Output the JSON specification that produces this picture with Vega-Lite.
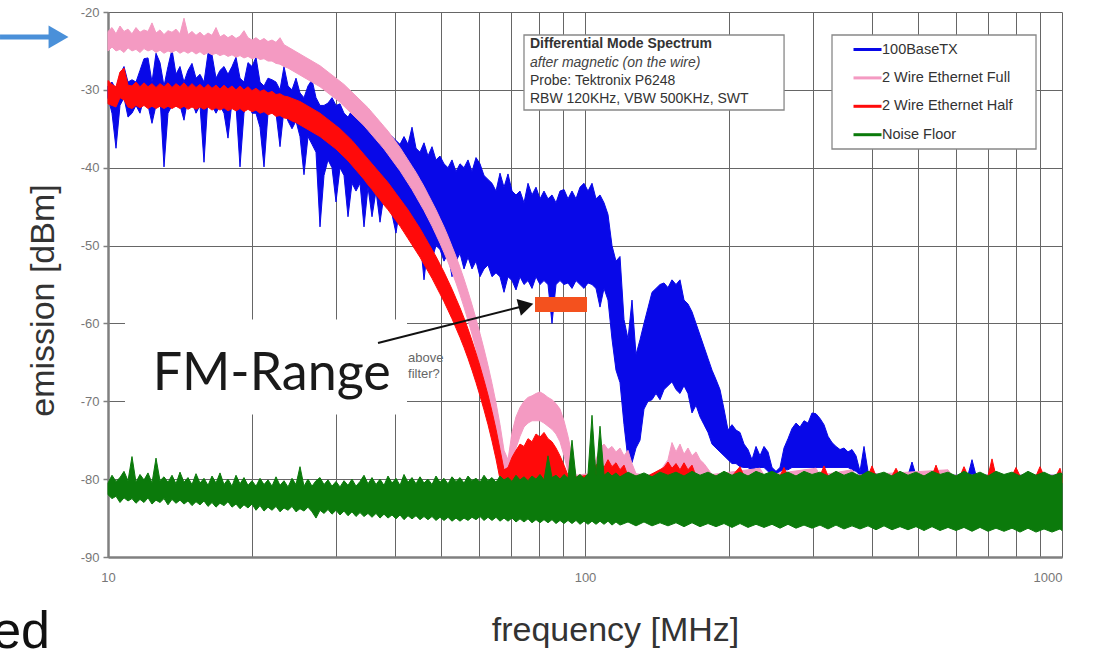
{
"$schema": "https://vega.github.io/schema/vega-lite/v6.json",
"width": 954, "height": 545,
"autosize": "none",
"padding": {"left": 108, "top": 12, "right": 37, "bottom": 94},
"background": "white",
"config": {"view": {"stroke": null},
 "legend": {"orient": "none", "legendX": 744, "legendY": 30, "symbolType": "M-1,0H3.67", "symbolSize": 144, "symbolStrokeWidth": 3, "labelFont": "Liberation Sans", "labelFontSize": 14.5, "labelColor": "#333", "labelOffset": 15, "rowPadding": 13.4, "padding": 0}},
"datasets": {
"blue": [
{"f":10,"lo":-31,"hi":-29.5},{"f":10.195,"lo":-33,"hi":-29},{"f":10.394,"lo":-37.5,"hi":-30},{"f":10.596,"lo":-32,"hi":-28},{"f":10.803,"lo":-31,"hi":-27},{"f":11.014,"lo":-33.5,"hi":-29},{"f":11.228,"lo":-33,"hi":-28.7},{"f":11.447,"lo":-32,"hi":-29},{"f":11.67,"lo":-33,"hi":-27.5},{"f":11.898,"lo":-31,"hi":-26},{"f":12.13,"lo":-32,"hi":-25.9},{"f":12.366,"lo":-34.3,"hi":-29},
{"f":12.608,"lo":-32,"hi":-25.3},{"f":12.853,"lo":-31,"hi":-26.5},{"f":13.104,"lo":-39.9,"hi":-29.5},{"f":13.359,"lo":-33,"hi":-27},{"f":13.62,"lo":-32,"hi":-24.8},{"f":13.885,"lo":-31.5,"hi":-28},{"f":14.156,"lo":-32,"hi":-27},{"f":14.432,"lo":-33.9,"hi":-29},{"f":14.713,"lo":-31,"hi":-27.5},{"f":15.0,"lo":-31.5,"hi":-26.6},{"f":15.293,"lo":-33,"hi":-28.5},{"f":15.591,"lo":-32,"hi":-28},
{"f":15.895,"lo":-39.3,"hi":-29},{"f":16.205,"lo":-31,"hi":-25.3},{"f":16.521,"lo":-32,"hi":-25.5},{"f":16.843,"lo":-33,"hi":-28.5},{"f":17.171,"lo":-32,"hi":-27.5},{"f":17.506,"lo":-33,"hi":-27},{"f":17.847,"lo":-36.2,"hi":-28},{"f":18.195,"lo":-31.5,"hi":-27},{"f":18.55,"lo":-32,"hi":-25.8},{"f":18.912,"lo":-39.9,"hi":-28.5},{"f":19.28,"lo":-33,"hi":-29},{"f":19.656,"lo":-31,"hi":-26.5},
{"f":20.04,"lo":-33,"hi":-27},{"f":20.43,"lo":-33,"hi":-25.8},{"f":20.829,"lo":-34.8,"hi":-29},{"f":21.235,"lo":-39.9,"hi":-29.5},{"f":21.649,"lo":-33,"hi":-28.5},{"f":22.071,"lo":-32,"hi":-28.7},{"f":22.501,"lo":-33,"hi":-29},{"f":22.94,"lo":-37.3,"hi":-30},{"f":23.387,"lo":-32.5,"hi":-27},{"f":23.843,"lo":-34,"hi":-29.5},{"f":24.308,"lo":-35,"hi":-30},{"f":24.782,"lo":-34,"hi":-28.5},
{"f":25.265,"lo":-36,"hi":-30.4},{"f":25.757,"lo":-40.9,"hi":-31},{"f":26.26,"lo":-36,"hi":-29.5},{"f":26.772,"lo":-37,"hi":-28.7},{"f":27.294,"lo":-38,"hi":-31},{"f":27.826,"lo":-47.6,"hi":-32},{"f":28.368,"lo":-41,"hi":-32},{"f":28.921,"lo":-39,"hi":-31.7},{"f":29.485,"lo":-40,"hi":-31},{"f":30.06,"lo":-44.4,"hi":-32},{"f":30.646,"lo":-40,"hi":-31.8},{"f":31.244,"lo":-41,"hi":-33},
{"f":31.853,"lo":-46.3,"hi":-33.5},{"f":32.474,"lo":-42,"hi":-32.6},{"f":33.107,"lo":-43,"hi":-33},{"f":33.753,"lo":-42,"hi":-34},{"f":34.411,"lo":-47.6,"hi":-34.5},{"f":35.081,"lo":-42.5,"hi":-33.8},{"f":35.766,"lo":-46.3,"hi":-34},{"f":36.463,"lo":-43,"hi":-35.5},{"f":37.174,"lo":-47,"hi":-35},{"f":37.899,"lo":-43.5,"hi":-36},{"f":38.637,"lo":-44,"hi":-35.5},{"f":39.391,"lo":-46,"hi":-36},
{"f":40.158,"lo":-48.4,"hi":-36.5},{"f":40.941,"lo":-45,"hi":-37},{"f":41.74,"lo":-46,"hi":-36},{"f":42.553,"lo":-47,"hi":-37},{"f":43.383,"lo":-47,"hi":-34.8},{"f":44.229,"lo":-48,"hi":-37.5},{"f":45.091,"lo":-49,"hi":-38},{"f":45.97,"lo":-54.4,"hi":-36.8},{"f":46.866,"lo":-50,"hi":-38.5},{"f":47.78,"lo":-51.8,"hi":-37.3},{"f":48.711,"lo":-50,"hi":-39},{"f":49.661,"lo":-50.5,"hi":-38.5},
{"f":50.63,"lo":-52,"hi":-39.5},{"f":51.617,"lo":-51,"hi":-40},{"f":52.623,"lo":-54,"hi":-39},{"f":53.649,"lo":-52,"hi":-40.5},{"f":54.695,"lo":-51,"hi":-39.5},{"f":55.761,"lo":-53,"hi":-40},{"f":56.849,"lo":-51.5,"hi":-39},{"f":57.957,"lo":-53,"hi":-40.5},{"f":59.087,"lo":-52,"hi":-38.7},{"f":60.239,"lo":-54,"hi":-39.5},{"f":61.413,"lo":-53,"hi":-41},{"f":62.611,"lo":-52.5,"hi":-41.5},
{"f":63.832,"lo":-54,"hi":-42},{"f":65.076,"lo":-53.5,"hi":-43},{"f":66.345,"lo":-54,"hi":-40.7},{"f":67.638,"lo":-56,"hi":-42.5},{"f":68.957,"lo":-54,"hi":-40.8},{"f":70.301,"lo":-54.5,"hi":-43},{"f":71.672,"lo":-55.7,"hi":-43.5},{"f":73.069,"lo":-54,"hi":-43},{"f":74.494,"lo":-55,"hi":-44.5},{"f":75.946,"lo":-54.5,"hi":-42},{"f":77.427,"lo":-55.5,"hi":-43.5},{"f":78.936,"lo":-54,"hi":-42.5},
{"f":80.476,"lo":-55,"hi":-44},{"f":82.045,"lo":-54.5,"hi":-43},{"f":83.645,"lo":-55,"hi":-44},{"f":85.275,"lo":-60,"hi":-43.5},{"f":86.938,"lo":-55,"hi":-44.5},{"f":88.633,"lo":-54.5,"hi":-43},{"f":90.361,"lo":-55,"hi":-42.8},{"f":92.123,"lo":-54.8,"hi":-44},{"f":93.919,"lo":-55.5,"hi":-43},{"f":95.75,"lo":-54.5,"hi":-44},{"f":97.616,"lo":-55,"hi":-42.5},{"f":99.52,"lo":-55.5,"hi":-42},
{"f":101.46,"lo":-54.8,"hi":-43},{"f":103.44,"lo":-55,"hi":-42},{"f":105.46,"lo":-55.5,"hi":-44},{"f":107.51,"lo":-57.9,"hi":-43.5},{"f":109.61,"lo":-55.5,"hi":-44.5},{"f":111.74,"lo":-57,"hi":-46},{"f":113.92,"lo":-62,"hi":-50},{"f":116.14,"lo":-66,"hi":-52},{"f":118.41,"lo":-67.6,"hi":-51.4},{"f":120.72,"lo":-73,"hi":-59.5},{"f":123.07,"lo":-77.5,"hi":-62},{"f":125.47,"lo":-77.9,"hi":-57},
{"f":127.92,"lo":-76,"hi":-64},{"f":130.41,"lo":-75,"hi":-62.1},{"f":132.95,"lo":-71,"hi":-60},{"f":135.55,"lo":-70,"hi":-58},{"f":138.19,"lo":-69.8,"hi":-56},{"f":140.88,"lo":-69,"hi":-55.5},{"f":143.63,"lo":-69.8,"hi":-55},{"f":146.43,"lo":-68.5,"hi":-54.8},{"f":149.28,"lo":-68,"hi":-55.4},{"f":152.19,"lo":-67.5,"hi":-54.4},{"f":155.16,"lo":-68.5,"hi":-55},{"f":158.19,"lo":-69,"hi":-54.4},
{"f":161.27,"lo":-68,"hi":-57},{"f":164.41,"lo":-69,"hi":-57.5},{"f":167.62,"lo":-71.5,"hi":-58.5},{"f":170.89,"lo":-70.5,"hi":-60},{"f":174.22,"lo":-72,"hi":-61.5},{"f":177.62,"lo":-73,"hi":-63},{"f":181.08,"lo":-74,"hi":-64.5},{"f":184.61,"lo":-75.5,"hi":-66},{"f":188.21,"lo":-76,"hi":-67.2},{"f":191.88,"lo":-76.5,"hi":-68.5},{"f":195.62,"lo":-77,"hi":-71},{"f":199.44,"lo":-77.5,"hi":-73.7},
{"f":203.32,"lo":-78,"hi":-73},{"f":207.29,"lo":-78,"hi":-73.7},{"f":211.33,"lo":-78.4,"hi":-74},{"f":215.45,"lo":-78.5,"hi":-75.5},{"f":219.65,"lo":-78.5,"hi":-76.2},{"f":223.93,"lo":-79,"hi":-77.5},{"f":228.3,"lo":-78.5,"hi":-75.8},{"f":232.75,"lo":-78.5,"hi":-77},{"f":237.29,"lo":-78.5,"hi":-75.8},{"f":241.91,"lo":-79,"hi":-76.5},{"f":246.63,"lo":-79.5,"hi":-78.5},{"f":251.44,"lo":-79.5,"hi":-79},
{"f":256.34,"lo":-79,"hi":-78.5},{"f":261.34,"lo":-78.8,"hi":-76},{"f":266.43,"lo":-78.8,"hi":-74.8},{"f":271.63,"lo":-78.5,"hi":-73.5},{"f":276.92,"lo":-78.5,"hi":-72.8},{"f":282.32,"lo":-78.5,"hi":-73.3},{"f":287.83,"lo":-78.5,"hi":-72.5},{"f":293.44,"lo":-78.5,"hi":-72.8},{"f":299.16,"lo":-78.5,"hi":-71.5},{"f":304.99,"lo":-78.5,"hi":-71.6},{"f":310.94,"lo":-78.5,"hi":-72.2},{"f":317.0,"lo":-78.5,"hi":-73},
{"f":323.18,"lo":-78.5,"hi":-74.5},{"f":329.48,"lo":-78.5,"hi":-75.3},{"f":335.9,"lo":-78.5,"hi":-75.8},{"f":342.45,"lo":-78.5,"hi":-76.2},{"f":349.13,"lo":-78.5,"hi":-76},{"f":355.94,"lo":-78.5,"hi":-76.5},{"f":362.88,"lo":-78.8,"hi":-76.2},{"f":369.95,"lo":-79,"hi":-77},{"f":377.17,"lo":-79.5,"hi":-79},{"f":384.52,"lo":-79.5,"hi":-75.8},{"f":392.02,"lo":-79.5,"hi":-79},
{"f":415.39,"lo":-80,"hi":-79.5},{"f":475.51,"lo":-80,"hi":-79.5},{"f":484.78,"lo":-80,"hi":-77.8},{"f":494.23,"lo":-80,"hi":-79.5},{"f":635.26,"lo":-80,"hi":-79.5},{"f":647.64,"lo":-80,"hi":-77.5},{"f":660.26,"lo":-80,"hi":-79.5},{"f":1000,"lo":-80,"hi":-79.5}
],
"pink": [
{"f":10,"lo":-25,"hi":-22.5},{"f":10.195,"lo":-24.5,"hi":-22},{"f":10.394,"lo":-25,"hi":-22.8},{"f":10.596,"lo":-24.8,"hi":-21.8},{"f":10.803,"lo":-25.2,"hi":-22.5},{"f":11.014,"lo":-24.6,"hi":-22.2},{"f":11.228,"lo":-25,"hi":-22.8},{"f":11.447,"lo":-24.8,"hi":-22},{"f":11.67,"lo":-25.2,"hi":-22.6},{"f":11.898,"lo":-24.7,"hi":-22.3},{"f":12.13,"lo":-25,"hi":-22.5},{"f":12.366,"lo":-24.8,"hi":-21.4},
{"f":12.608,"lo":-25.2,"hi":-22.7},{"f":12.853,"lo":-24.9,"hi":-22.3},{"f":13.104,"lo":-25.3,"hi":-22.9},{"f":13.359,"lo":-25,"hi":-22.4},{"f":13.62,"lo":-25.2,"hi":-22.6},{"f":13.885,"lo":-24.9,"hi":-22.2},{"f":14.156,"lo":-25.3,"hi":-22.8},{"f":14.432,"lo":-25,"hi":-20.8},{"f":14.713,"lo":-25.3,"hi":-22.9},{"f":15.0,"lo":-25,"hi":-22.5},{"f":15.293,"lo":-25.4,"hi":-23},{"f":15.591,"lo":-25.1,"hi":-22.6},
{"f":15.895,"lo":-25.5,"hi":-23.1},{"f":16.205,"lo":-25.2,"hi":-22.7},{"f":16.521,"lo":-25.5,"hi":-23},{"f":16.843,"lo":-25.3,"hi":-22},{"f":17.171,"lo":-25.6,"hi":-23.2},{"f":17.506,"lo":-25.4,"hi":-22.9},{"f":17.847,"lo":-25.7,"hi":-23.3},{"f":18.195,"lo":-25.5,"hi":-23},{"f":18.55,"lo":-25.8,"hi":-23.4},{"f":18.912,"lo":-25.6,"hi":-23.1},{"f":19.28,"lo":-25.9,"hi":-22.4},{"f":19.656,"lo":-25.7,"hi":-23.3},
{"f":20.04,"lo":-26,"hi":-23.6},{"f":20.43,"lo":-25.8,"hi":-23.3},{"f":20.829,"lo":-26.1,"hi":-23.7},{"f":21.235,"lo":-26,"hi":-23.4},{"f":21.649,"lo":-26.3,"hi":-23.8},{"f":22.071,"lo":-26.3,"hi":-23.6},{"f":22.501,"lo":-26.6,"hi":-23.9},{"f":22.94,"lo":-26.7,"hi":-23.3},{"f":23.387,"lo":-27,"hi":-24.2},{"f":23.843,"lo":-27.2,"hi":-24.5},{"f":24.308,"lo":-27.5,"hi":-24.8},{"f":24.782,"lo":-27.8,"hi":-25.1},
{"f":25.265,"lo":-28.1,"hi":-25.4},{"f":25.757,"lo":-28.4,"hi":-25.7},{"f":26.26,"lo":-28.7,"hi":-26},{"f":26.772,"lo":-29,"hi":-26.3},{"f":27.294,"lo":-29.3,"hi":-26.6},{"f":27.826,"lo":-29.6,"hi":-26.9},{"f":28.368,"lo":-30,"hi":-27.3},{"f":28.921,"lo":-30.4,"hi":-27.7},{"f":29.485,"lo":-30.8,"hi":-28.1},{"f":30.06,"lo":-31.2,"hi":-28.5},{"f":30.646,"lo":-31.6,"hi":-28.9},{"f":31.244,"lo":-32.1,"hi":-29.3},
{"f":31.853,"lo":-32.6,"hi":-29.8},{"f":32.474,"lo":-33.1,"hi":-30.3},{"f":33.107,"lo":-33.6,"hi":-30.8},{"f":33.753,"lo":-34.1,"hi":-31.3},{"f":34.411,"lo":-34.6,"hi":-31.8},{"f":35.081,"lo":-35.2,"hi":-32.3},{"f":35.766,"lo":-35.8,"hi":-32.9},{"f":36.463,"lo":-36.4,"hi":-33.5},{"f":37.174,"lo":-37,"hi":-34.1},{"f":37.899,"lo":-37.6,"hi":-34.7},{"f":38.637,"lo":-38.3,"hi":-35.3},{"f":39.391,"lo":-39,"hi":-36},
{"f":40.158,"lo":-39.7,"hi":-36.7},{"f":40.941,"lo":-40.4,"hi":-37.4},{"f":41.74,"lo":-41.2,"hi":-38.2},{"f":42.553,"lo":-42,"hi":-39},{"f":43.383,"lo":-42.8,"hi":-39.8},{"f":44.229,"lo":-43.7,"hi":-40.6},{"f":45.091,"lo":-44.6,"hi":-41.5},{"f":45.97,"lo":-45.5,"hi":-42.4},{"f":46.866,"lo":-46.5,"hi":-43.4},{"f":47.78,"lo":-47.5,"hi":-44.4},{"f":48.711,"lo":-48.6,"hi":-45.4},{"f":49.661,"lo":-49.7,"hi":-46.5},
{"f":50.63,"lo":-50.9,"hi":-47.6},{"f":51.617,"lo":-52.1,"hi":-48.8},{"f":52.623,"lo":-53.4,"hi":-50.1},{"f":53.649,"lo":-54.8,"hi":-51.4},{"f":54.695,"lo":-56.3,"hi":-52.8},{"f":55.761,"lo":-57.9,"hi":-54.3},{"f":56.849,"lo":-59.6,"hi":-55.9},{"f":57.957,"lo":-61.4,"hi":-57.6},{"f":59.087,"lo":-63.3,"hi":-59.4},{"f":60.239,"lo":-65.3,"hi":-61.3},{"f":61.413,"lo":-67.4,"hi":-63.3},{"f":62.611,"lo":-69.6,"hi":-65.4},
{"f":63.832,"lo":-72,"hi":-67.7},{"f":65.076,"lo":-74.6,"hi":-70.2},{"f":66.345,"lo":-77.4,"hi":-73},{"f":67.638,"lo":-80.5,"hi":-76.3},{"f":68.957,"lo":-80.5,"hi":-77.5},{"f":70.301,"lo":-78.5,"hi":-74},{"f":71.672,"lo":-76,"hi":-72},{"f":73.069,"lo":-74.5,"hi":-70.8},{"f":74.494,"lo":-73.3,"hi":-70},{"f":75.946,"lo":-72.8,"hi":-69.5},{"f":77.427,"lo":-72.5,"hi":-69.3},{"f":78.936,"lo":-72.5,"hi":-69},
{"f":80.476,"lo":-72.5,"hi":-68.8},{"f":82.045,"lo":-72.8,"hi":-69.1},{"f":83.645,"lo":-73.2,"hi":-69.5},{"f":85.275,"lo":-73.6,"hi":-69.8},{"f":86.938,"lo":-74.2,"hi":-70.3},{"f":88.633,"lo":-75.2,"hi":-71},{"f":90.361,"lo":-77,"hi":-72.5},{"f":92.123,"lo":-79,"hi":-74.5},{"f":93.919,"lo":-80.5,"hi":-77},{"f":95.75,"lo":-80.5,"hi":-79.5},
{"f":101.46,"lo":-80.5,"hi":-79.3},{"f":105.46,"lo":-80.5,"hi":-77.5},{"f":107.51,"lo":-80.5,"hi":-76},{"f":109.61,"lo":-80.5,"hi":-75.5},{"f":111.74,"lo":-80.5,"hi":-76.2},{"f":113.92,"lo":-80.5,"hi":-75.8},{"f":116.14,"lo":-80.5,"hi":-76.5},{"f":118.41,"lo":-80.5,"hi":-76},{"f":120.72,"lo":-80.5,"hi":-77},{"f":123.07,"lo":-80.5,"hi":-76.3},{"f":125.47,"lo":-80.5,"hi":-78},{"f":127.92,"lo":-80.5,"hi":-79.3},
{"f":135.55,"lo":-80.5,"hi":-79.5},{"f":143.63,"lo":-80.5,"hi":-79},{"f":149.28,"lo":-80.5,"hi":-77.5},{"f":152.19,"lo":-80.5,"hi":-75.3},{"f":155.16,"lo":-80.5,"hi":-76.5},{"f":158.19,"lo":-80.5,"hi":-75.5},{"f":161.27,"lo":-80.5,"hi":-76.8},{"f":164.41,"lo":-80.5,"hi":-76},{"f":167.62,"lo":-80.5,"hi":-77},{"f":170.89,"lo":-80.5,"hi":-76.5},{"f":174.22,"lo":-80.5,"hi":-77.5},{"f":177.62,"lo":-80.5,"hi":-78},{"f":184.61,"lo":-80.5,"hi":-79.4},
{"f":232.75,"lo":-80.5,"hi":-78.6},{"f":237.29,"lo":-80.5,"hi":-79.5},{"f":304.99,"lo":-80.5,"hi":-78.6},{"f":310.94,"lo":-80.5,"hi":-79.5},{"f":362.88,"lo":-80.5,"hi":-78.8},{"f":369.95,"lo":-80.5,"hi":-79.5},{"f":576.79,"lo":-80.5,"hi":-78.8},{"f":588.04,"lo":-80.5,"hi":-79.5},{"f":1000,"lo":-80.5,"hi":-79.5}
],
"red": [
{"f":10,"lo":-31.8,"hi":-28.8},{"f":10.195,"lo":-32,"hi":-29.3},{"f":10.394,"lo":-32.2,"hi":-29.6},{"f":10.596,"lo":-31,"hi":-27.7},{"f":10.803,"lo":-31.3,"hi":-27.2},{"f":11.014,"lo":-32.2,"hi":-29.4},{"f":11.228,"lo":-32.4,"hi":-29.5},{"f":11.447,"lo":-32,"hi":-29},{"f":11.67,"lo":-32.3,"hi":-29.6},{"f":11.898,"lo":-32,"hi":-29.1},{"f":12.13,"lo":-32.4,"hi":-29.6},{"f":12.366,"lo":-32.1,"hi":-29.2},
{"f":12.608,"lo":-32.4,"hi":-29.7},{"f":12.853,"lo":-32.1,"hi":-29.2},{"f":13.104,"lo":-32.4,"hi":-29.6},{"f":13.359,"lo":-32.1,"hi":-29.1},{"f":13.62,"lo":-32.4,"hi":-29.7},{"f":13.885,"lo":-32.1,"hi":-29.2},{"f":14.156,"lo":-32.4,"hi":-29.6},{"f":14.432,"lo":-32.1,"hi":-29.1},{"f":14.713,"lo":-32.5,"hi":-29.7},{"f":15.0,"lo":-32.2,"hi":-29.2},{"f":15.293,"lo":-32.5,"hi":-29.7},{"f":15.591,"lo":-32.2,"hi":-29.3},
{"f":15.895,"lo":-32.5,"hi":-29.8},{"f":16.205,"lo":-32.2,"hi":-29.3},{"f":16.521,"lo":-32.6,"hi":-29.8},{"f":16.843,"lo":-32.3,"hi":-29.4},{"f":17.171,"lo":-32.6,"hi":-29.9},{"f":17.506,"lo":-32.3,"hi":-29.4},{"f":17.847,"lo":-32.7,"hi":-29.9},{"f":18.195,"lo":-32.4,"hi":-29.5},{"f":18.55,"lo":-32.7,"hi":-30},{"f":18.912,"lo":-32.4,"hi":-29.5},{"f":19.28,"lo":-32.8,"hi":-30},{"f":19.656,"lo":-32.5,"hi":-29.6},
{"f":20.04,"lo":-32.8,"hi":-30.1},{"f":20.43,"lo":-32.6,"hi":-29.8},{"f":20.829,"lo":-33,"hi":-30.2},{"f":21.235,"lo":-32.8,"hi":-30},{"f":21.649,"lo":-33.2,"hi":-30.4},{"f":22.071,"lo":-33,"hi":-30.2},{"f":22.501,"lo":-33.4,"hi":-30.6},{"f":22.94,"lo":-33.3,"hi":-30.5},{"f":23.387,"lo":-33.6,"hi":-30.8},{"f":23.843,"lo":-33.7,"hi":-30.9},{"f":24.308,"lo":-34,"hi":-31.1},{"f":24.782,"lo":-34.2,"hi":-31.3},
{"f":25.265,"lo":-34.5,"hi":-31.5},{"f":25.757,"lo":-34.8,"hi":-31.8},{"f":26.26,"lo":-35.1,"hi":-32.1},{"f":26.772,"lo":-35.4,"hi":-32.4},{"f":27.294,"lo":-35.7,"hi":-32.7},{"f":27.826,"lo":-36,"hi":-33},{"f":28.368,"lo":-36.4,"hi":-33.4},{"f":28.921,"lo":-36.8,"hi":-33.8},{"f":29.485,"lo":-37.2,"hi":-34.2},{"f":30.06,"lo":-37.6,"hi":-34.6},{"f":30.646,"lo":-38.1,"hi":-35},{"f":31.244,"lo":-38.6,"hi":-35.5},
{"f":31.853,"lo":-39.1,"hi":-36},{"f":32.474,"lo":-39.7,"hi":-36.5},{"f":33.107,"lo":-40.3,"hi":-37.1},{"f":33.753,"lo":-40.9,"hi":-37.7},{"f":34.411,"lo":-41.5,"hi":-38.3},{"f":35.081,"lo":-42.2,"hi":-38.9},{"f":35.766,"lo":-42.8,"hi":-39.5},{"f":36.463,"lo":-43.5,"hi":-40.1},{"f":37.174,"lo":-44.1,"hi":-40.7},{"f":37.899,"lo":-44.8,"hi":-41.3},{"f":38.637,"lo":-45.4,"hi":-41.9},{"f":39.391,"lo":-46.1,"hi":-42.6},
{"f":40.158,"lo":-46.8,"hi":-43.3},{"f":40.941,"lo":-47.5,"hi":-44},{"f":41.74,"lo":-48.3,"hi":-44.7},{"f":42.553,"lo":-49.1,"hi":-45.4},{"f":43.383,"lo":-49.9,"hi":-46.2},{"f":44.229,"lo":-50.7,"hi":-47},{"f":45.091,"lo":-51.5,"hi":-47.8},{"f":45.97,"lo":-52.4,"hi":-48.7},{"f":46.866,"lo":-53.3,"hi":-49.6},{"f":47.78,"lo":-54.2,"hi":-50.5},{"f":48.711,"lo":-55.2,"hi":-51.4},{"f":49.661,"lo":-56.2,"hi":-52.4},
{"f":50.63,"lo":-57.2,"hi":-53.4},{"f":51.617,"lo":-58.3,"hi":-54.5},{"f":52.623,"lo":-59.4,"hi":-55.6},{"f":53.649,"lo":-60.6,"hi":-56.8},{"f":54.695,"lo":-61.8,"hi":-58},{"f":55.761,"lo":-63.1,"hi":-59.3},{"f":56.849,"lo":-64.5,"hi":-60.7},{"f":57.957,"lo":-66,"hi":-62.2},{"f":59.087,"lo":-67.6,"hi":-63.8},{"f":60.239,"lo":-69.3,"hi":-65.5},{"f":61.413,"lo":-71.1,"hi":-67.3},{"f":62.611,"lo":-73,"hi":-69.2},
{"f":63.832,"lo":-75.1,"hi":-71.3},{"f":65.076,"lo":-77.4,"hi":-73.6},{"f":66.345,"lo":-80,"hi":-76.2},{"f":67.638,"lo":-80.5,"hi":-78.8},{"f":68.957,"lo":-80.5,"hi":-78.5},{"f":70.301,"lo":-80.5,"hi":-77.2},{"f":71.672,"lo":-80.5,"hi":-76.3},{"f":73.069,"lo":-80.5,"hi":-75.5},{"f":74.494,"lo":-80.5,"hi":-75.8},{"f":75.946,"lo":-80.5,"hi":-74.8},{"f":77.427,"lo":-80.5,"hi":-75.2},{"f":78.936,"lo":-80.5,"hi":-74.2},
{"f":80.476,"lo":-80.5,"hi":-74.6},{"f":82.045,"lo":-80.5,"hi":-74},{"f":83.645,"lo":-80.5,"hi":-74.8},{"f":85.275,"lo":-80.5,"hi":-75.2},{"f":86.938,"lo":-80.5,"hi":-76},{"f":88.633,"lo":-80.5,"hi":-77},{"f":90.361,"lo":-80.5,"hi":-78.2},{"f":92.123,"lo":-80.5,"hi":-79.5},{"f":93.919,"lo":-80.5,"hi":-79.8},
{"f":101.46,"lo":-80.5,"hi":-79.5},{"f":105.46,"lo":-80.5,"hi":-78.2},{"f":107.51,"lo":-80.5,"hi":-77.8},{"f":109.61,"lo":-80.5,"hi":-78.5},{"f":111.74,"lo":-80.5,"hi":-77.5},{"f":113.92,"lo":-80.5,"hi":-78.4},{"f":116.14,"lo":-80.5,"hi":-77.9},{"f":118.41,"lo":-80.5,"hi":-78.8},{"f":120.72,"lo":-80.5,"hi":-78.2},{"f":123.07,"lo":-80.5,"hi":-79.6},
{"f":135.55,"lo":-80.5,"hi":-79.6},{"f":146.43,"lo":-80.5,"hi":-78.5},{"f":149.28,"lo":-80.5,"hi":-77.8},{"f":152.19,"lo":-80.5,"hi":-78.6},{"f":155.16,"lo":-80.5,"hi":-78},{"f":158.19,"lo":-80.5,"hi":-78.8},{"f":161.27,"lo":-80.5,"hi":-77.9},{"f":164.41,"lo":-80.5,"hi":-78.8},{"f":167.62,"lo":-80.5,"hi":-78.2},{"f":170.89,"lo":-80.5,"hi":-79.6},
{"f":203.32,"lo":-80.5,"hi":-79.6},{"f":211.33,"lo":-80.5,"hi":-78.4},{"f":215.45,"lo":-80.5,"hi":-79.6},{"f":256.34,"lo":-80.5,"hi":-79.6},{"f":261.34,"lo":-80.5,"hi":-78.5},{"f":266.43,"lo":-80.5,"hi":-79.6},{"f":310.94,"lo":-80.5,"hi":-79.6},{"f":317.0,"lo":-80.5,"hi":-78.3},{"f":323.18,"lo":-80.5,"hi":-79.6},{"f":392.02,"lo":-80.5,"hi":-79.6},{"f":399.66,"lo":-80.5,"hi":-78.3},{"f":407.45,"lo":-80.5,"hi":-79.6},{"f":440.17,"lo":-80.5,"hi":-79.6},{"f":448.75,"lo":-80.5,"hi":-78.6},{"f":457.5,"lo":-80.5,"hi":-79.6},{"f":533.92,"lo":-80.5,"hi":-79.6},{"f":544.33,"lo":-80.5,"hi":-78.2},{"f":554.94,"lo":-80.5,"hi":-79.6},{"f":611.19,"lo":-80.5,"hi":-79.6},{"f":623.11,"lo":-80.5,"hi":-78.4},{"f":635.26,"lo":-80.5,"hi":-79.6},{"f":699.64,"lo":-80.5,"hi":-79.6},{"f":713.28,"lo":-80.5,"hi":-77.4},{"f":727.19,"lo":-80.5,"hi":-79.6},{"f":785.58,"lo":-80.5,"hi":-79.6},{"f":800.9,"lo":-80.5,"hi":-78.5},{"f":816.51,"lo":-80.5,"hi":-79.6},{"f":882.08,"lo":-80.5,"hi":-79.6},{"f":899.28,"lo":-80.5,"hi":-78.4},{"f":916.81,"lo":-80.5,"hi":-79.6},{"f":971.49,"lo":-80.5,"hi":-79.6},{"f":990.43,"lo":-80.5,"hi":-78.6},{"f":1000,"lo":-80.5,"hi":-79.6}
],
"green": [
{"f":10,"lo":-82,"hi":-80.5},{"f":10.195,"lo":-82.5,"hi":-79.5},{"f":10.394,"lo":-82.2,"hi":-80.3},{"f":10.596,"lo":-83,"hi":-79.8},{"f":10.803,"lo":-82.4,"hi":-79},{"f":11.014,"lo":-82.8,"hi":-80.2},{"f":11.228,"lo":-82.5,"hi":-77.1},{"f":11.447,"lo":-83.1,"hi":-80.4},{"f":11.67,"lo":-82.6,"hi":-79.4},{"f":11.898,"lo":-83,"hi":-80.1},{"f":12.13,"lo":-82.4,"hi":-79.2},{"f":12.366,"lo":-83.2,"hi":-80.5},
{"f":12.608,"lo":-82.7,"hi":-77.3},{"f":12.853,"lo":-83,"hi":-80.2},{"f":13.104,"lo":-82.5,"hi":-79.7},{"f":13.359,"lo":-83.3,"hi":-80.4},{"f":13.62,"lo":-82.6,"hi":-79.5},{"f":13.885,"lo":-83.1,"hi":-80.6},{"f":14.156,"lo":-82.7,"hi":-79.1},{"f":14.432,"lo":-83.2,"hi":-80.4},{"f":14.713,"lo":-82.8,"hi":-79.8},{"f":15.0,"lo":-83.4,"hi":-80.7},{"f":15.293,"lo":-82.9,"hi":-79.3},{"f":15.591,"lo":-83.3,"hi":-80.5},
{"f":15.895,"lo":-82.8,"hi":-79.9},{"f":16.205,"lo":-83.5,"hi":-80.8},{"f":16.521,"lo":-83,"hi":-79.6},{"f":16.843,"lo":-83.6,"hi":-80.5},{"f":17.171,"lo":-83.1,"hi":-79.2},{"f":17.506,"lo":-83.4,"hi":-80.7},{"f":17.847,"lo":-82.9,"hi":-80},{"f":18.195,"lo":-83.6,"hi":-80.9},{"f":18.55,"lo":-83.2,"hi":-79.5},{"f":18.912,"lo":-83.8,"hi":-80.6},{"f":19.28,"lo":-83.3,"hi":-79.8},{"f":19.656,"lo":-83.7,"hi":-80.8},
{"f":20.04,"lo":-83.2,"hi":-80.2},{"f":20.43,"lo":-84,"hi":-80.9},{"f":20.829,"lo":-83.4,"hi":-79.9},{"f":21.235,"lo":-84.1,"hi":-80.7},{"f":21.649,"lo":-83.6,"hi":-80.1},{"f":22.071,"lo":-84,"hi":-80.9},{"f":22.501,"lo":-83.5,"hi":-79.7},{"f":22.94,"lo":-84.2,"hi":-80.8},{"f":23.387,"lo":-83.7,"hi":-80.2},{"f":23.843,"lo":-84,"hi":-81},{"f":24.308,"lo":-83.5,"hi":-79.9},{"f":24.782,"lo":-84.2,"hi":-80.7},
{"f":25.265,"lo":-83.8,"hi":-78.4},{"f":25.757,"lo":-84.1,"hi":-80.9},{"f":26.26,"lo":-83.6,"hi":-80},{"f":26.772,"lo":-84.2,"hi":-80.9},{"f":27.294,"lo":-85,"hi":-80.2},{"f":27.826,"lo":-84,"hi":-79.8},{"f":28.368,"lo":-84.4,"hi":-80.7},{"f":28.921,"lo":-83.9,"hi":-80.1},{"f":29.485,"lo":-84.5,"hi":-80.9},{"f":30.06,"lo":-84,"hi":-80.3},{"f":30.646,"lo":-84.6,"hi":-81},{"f":31.244,"lo":-84.1,"hi":-80.2},
{"f":31.853,"lo":-84.7,"hi":-80.8},{"f":32.474,"lo":-84.2,"hi":-80},{"f":33.107,"lo":-84.8,"hi":-80.9},{"f":33.753,"lo":-84.3,"hi":-80.3},{"f":34.411,"lo":-84.8,"hi":-79.5},{"f":35.081,"lo":-84.4,"hi":-80.6},{"f":35.766,"lo":-84.9,"hi":-79.8},{"f":36.463,"lo":-84.4,"hi":-80.7},{"f":37.174,"lo":-85,"hi":-80},{"f":37.899,"lo":-84.5,"hi":-80.8},{"f":38.637,"lo":-85,"hi":-79.6},{"f":39.391,"lo":-84.6,"hi":-80.5},
{"f":40.158,"lo":-85.1,"hi":-79.9},{"f":40.941,"lo":-84.6,"hi":-80.8},{"f":41.74,"lo":-85.2,"hi":-79.4},{"f":42.553,"lo":-84.7,"hi":-80.4},{"f":43.383,"lo":-85.1,"hi":-79.8},{"f":44.229,"lo":-84.7,"hi":-80.6},{"f":45.091,"lo":-85.2,"hi":-79.7},{"f":45.97,"lo":-84.8,"hi":-80.5},{"f":46.866,"lo":-85.2,"hi":-80},{"f":47.78,"lo":-84.8,"hi":-80.7},{"f":48.711,"lo":-85.3,"hi":-79.6},{"f":49.661,"lo":-84.9,"hi":-80.4},
{"f":50.63,"lo":-85.3,"hi":-79.9},{"f":51.617,"lo":-84.9,"hi":-80.6},{"f":52.623,"lo":-85.4,"hi":-79.7},{"f":53.649,"lo":-85,"hi":-80.3},{"f":54.695,"lo":-85.4,"hi":-79.8},{"f":55.761,"lo":-85,"hi":-80.5},{"f":56.849,"lo":-85.3,"hi":-79.6},{"f":57.957,"lo":-84.9,"hi":-80.2},{"f":59.087,"lo":-85.2,"hi":-79.9},{"f":60.239,"lo":-84.8,"hi":-80.4},{"f":61.413,"lo":-85.3,"hi":-79.5},{"f":62.611,"lo":-84.9,"hi":-80.2},
{"f":63.832,"lo":-85.3,"hi":-79.8},{"f":65.076,"lo":-84.9,"hi":-80.4},{"f":66.345,"lo":-85.4,"hi":-79.6},{"f":67.638,"lo":-85,"hi":-80.1},{"f":68.957,"lo":-85.4,"hi":-79.8},{"f":70.301,"lo":-85,"hi":-80.3},{"f":71.672,"lo":-85.5,"hi":-79.5},{"f":73.069,"lo":-85.1,"hi":-80.1},{"f":74.494,"lo":-85.5,"hi":-79.7},{"f":75.946,"lo":-85.1,"hi":-80.2},{"f":77.427,"lo":-85.6,"hi":-79.6},{"f":78.936,"lo":-85.2,"hi":-80},
{"f":80.476,"lo":-85.6,"hi":-79.4},{"f":82.045,"lo":-85.2,"hi":-80.1},{"f":83.645,"lo":-85.6,"hi":-77},{"f":85.275,"lo":-85.2,"hi":-79.8},{"f":86.938,"lo":-85.7,"hi":-79.5},{"f":88.633,"lo":-85.3,"hi":-80},{"f":90.361,"lo":-85.7,"hi":-79.4},{"f":92.123,"lo":-85.3,"hi":-79.9},{"f":93.919,"lo":-85.7,"hi":-75},{"f":95.75,"lo":-85.3,"hi":-79.8},{"f":97.616,"lo":-85.8,"hi":-79.4},{"f":99.52,"lo":-85.4,"hi":-79.9},
{"f":101.46,"lo":-85.8,"hi":-79.3},{"f":103.44,"lo":-85.4,"hi":-71.8},{"f":105.46,"lo":-85.8,"hi":-79.6},{"f":107.51,"lo":-85.4,"hi":-73.2},{"f":109.61,"lo":-85.8,"hi":-79.5},{"f":111.74,"lo":-85.4,"hi":-79.1},{"f":113.92,"lo":-85.9,"hi":-79.6},{"f":116.14,"lo":-85.5,"hi":-79.2},{"f":118.41,"lo":-85.9,"hi":-79.7},
{"f":123.07,"lo":-85.5,"hi":-79.1},{"f":127.92,"lo":-86,"hi":-79.6},{"f":132.95,"lo":-85.5,"hi":-79.2},{"f":138.19,"lo":-86,"hi":-79.7},{"f":143.63,"lo":-85.6,"hi":-79.1},{"f":149.28,"lo":-86,"hi":-79.5},{"f":155.16,"lo":-85.6,"hi":-79.1},{"f":161.27,"lo":-86.1,"hi":-79.6},{"f":167.62,"lo":-85.6,"hi":-79},{"f":174.22,"lo":-86.1,"hi":-79.5},{"f":181.08,"lo":-85.7,"hi":-79.1},{"f":188.21,"lo":-86.1,"hi":-79.6},
{"f":195.62,"lo":-85.7,"hi":-79},{"f":203.32,"lo":-86.2,"hi":-79.5},{"f":211.33,"lo":-85.7,"hi":-79.1},{"f":219.65,"lo":-86.2,"hi":-79.6},{"f":228.3,"lo":-85.8,"hi":-79},{"f":237.29,"lo":-86.2,"hi":-79.4},{"f":246.63,"lo":-85.8,"hi":-79},{"f":256.34,"lo":-86.3,"hi":-79.5},{"f":266.43,"lo":-85.8,"hi":-79.1},{"f":276.92,"lo":-86.3,"hi":-79.6},{"f":287.83,"lo":-85.9,"hi":-79},{"f":299.16,"lo":-86.3,"hi":-79.4},
{"f":310.94,"lo":-85.9,"hi":-79.1},{"f":323.18,"lo":-86.4,"hi":-79.6},{"f":335.9,"lo":-85.9,"hi":-79},{"f":349.13,"lo":-86.4,"hi":-79.5},{"f":362.88,"lo":-86,"hi":-79.1},{"f":377.17,"lo":-86.4,"hi":-79.6},{"f":392.02,"lo":-86,"hi":-79},{"f":407.45,"lo":-86.5,"hi":-79.4},{"f":423.49,"lo":-86,"hi":-79.1},{"f":440.17,"lo":-86.5,"hi":-79.6},{"f":457.5,"lo":-86.1,"hi":-79},{"f":475.51,"lo":-86.5,"hi":-79.5},
{"f":494.23,"lo":-86.1,"hi":-79.1},{"f":513.69,"lo":-86.6,"hi":-79.6},{"f":533.92,"lo":-86.1,"hi":-79},{"f":554.94,"lo":-86.6,"hi":-79.4},{"f":576.79,"lo":-86.2,"hi":-79.1},{"f":599.5,"lo":-86.6,"hi":-79.6},{"f":623.11,"lo":-86.2,"hi":-79},{"f":647.64,"lo":-86.7,"hi":-79.5},{"f":673.14,"lo":-86.2,"hi":-79.1},{"f":699.64,"lo":-86.7,"hi":-79.6},{"f":727.19,"lo":-86.3,"hi":-79},{"f":755.82,"lo":-86.7,"hi":-79.4},
{"f":785.58,"lo":-86.3,"hi":-79.1},{"f":816.51,"lo":-86.8,"hi":-79.6},{"f":848.66,"lo":-86.3,"hi":-79},{"f":882.08,"lo":-86.8,"hi":-79.5},{"f":916.81,"lo":-86.4,"hi":-79.1},{"f":952.91,"lo":-86.8,"hi":-79.6},{"f":990.43,"lo":-86.4,"hi":-79.2},{"f":1000,"lo":-86.6,"hi":-79.3}
],
"boxes": [{"f":74.49,"f2":261.4,"hi":-22.954,"lo":-32.587},{"f":329.48,"f2":882.08,"hi":-22.954,"lo":-37.597}],
"fmbox": [{"f":10.855,"f2":42.35,"hi":-59.5,"lo":-71.7}],
"fmrect": [{"f":78.56,"f2":100.97,"hi":-56.61,"lo":-58.53}],
"arrowline": [{"f":36.815,"f2":73.07,"hi":-62.51,"lo":-57.89}],
"arrowhead": [{"f":75.22,"hi":-57.7}],
"bluearrow": [{"f":5.938,"f2":7.559,"hi":-23.21}],
"bluehead": [{"f":7.875,"hi":-23.21}],
"boxbold": [{"f":76.68,"hi":-24.624,"t":"Differential Mode Spectrum"}],
"boxitalic": [{"f":76.68,"hi":-27.0,"t":"after magnetic (on the wire)"}],
"boxplain": [{"f":76.68,"hi":-29.376,"t":"Probe: Tektronix P6248"},{"f":76.68,"hi":-31.688,"t":"RBW 120KHz, VBW 500KHz, SWT"}],
"fm": [{"f":12.407,"hi":-68.55,"t":"FM-Range"}],
"small": [{"f":42.56,"hi":-64.95,"t":"above"},{"f":42.56,"hi":-67.01,"t":"filter?"}],
"ed": [{"f":7.559,"hi":-101.7,"t":"ed"}]
},
"encoding": {
 "x": {"field": "f", "type": "quantitative",
  "scale": {"type": "log", "domain": [10, 1000], "nice": false},
  "axis": {"values": [10,20,30,40,50,60,70,80,90,100,200,300,400,500,600,700,800,900,1000],
   "grid": true, "gridColor": "#666", "gridWidth": 1,
   "domainColor": "#808080", "domainWidth": 2.5, "ticks": false, "tickSize": 0,
   "labelFont": "Liberation Sans", "labelFontSize": 13, "labelColor": "#777", "labelPadding": 14, "labelDx": 2,
   "labelFlush": false, "labelOverlap": false,
   "labelExpr": "datum.value == 10 || datum.value == 100 || datum.value == 1000 ? datum.value + '' : ''",
   "labelAlign": {"condition": {"test": "datum.value == 1000", "value": "right"}, "value": "center"},
   "title": "frequency [MHz]", "titleFont": "Liberation Sans", "titleFontSize": 34, "titleFontWeight": "normal", "titleColor": "#333",
   "titleX": 507, "titleY": 83, "titleAlign": "center", "titleBaseline": "alphabetic"}},
 "y": {"field": "hi", "type": "quantitative",
  "scale": {"domain": [-90, -20], "nice": false, "zero": false},
  "axis": {"values": [-90,-80,-70,-60,-50,-40,-30,-20],
   "grid": true, "gridColor": "#666", "gridWidth": 1,
   "domainColor": "#808080", "domainWidth": 2.5, "tickColor": "#808080", "tickSize": 5, "tickWidth": 1.5,
   "labelFont": "Liberation Sans", "labelFontSize": 13, "labelColor": "#777", "labelPadding": 4,
   "labelExpr": "datum.value + ''",
   "title": "emission [dBm]", "titleFont": "Liberation Sans", "titleFontSize": 34, "titleFontWeight": "normal", "titleColor": "#333",
   "titleX": -55, "titleY": 288, "titleAngle": -90, "titleAlign": "center", "titleBaseline": "alphabetic"}}
},
"layer": [
 {"data": {"name": "blue"}, "mark": {"type": "area", "opacity": 1, "strokeWidth": 1},
  "encoding": {"y2": {"field": "lo"},
   "fill": {"datum": "100BaseTX", "type": "nominal", "title": null, "scale": {"domain": ["100BaseTX","2 Wire Ethernet Full","2 Wire Ethernet Half","Noise Floor"], "range": ["#0808E8","#F49AC2","#FF0A0A","#0B7A0B"]}},
   "stroke": {"datum": "100BaseTX", "type": "nominal", "title": null, "scale": {"domain": ["100BaseTX","2 Wire Ethernet Full","2 Wire Ethernet Half","Noise Floor"], "range": ["#0808E8","#F49AC2","#FF0A0A","#0B7A0B"]}}}},
 {"data": {"name": "pink"}, "mark": {"type": "area", "opacity": 1, "strokeWidth": 1},
  "encoding": {"y2": {"field": "lo"},
   "fill": {"datum": "2 Wire Ethernet Full", "type": "nominal", "title": null},
   "stroke": {"datum": "2 Wire Ethernet Full", "type": "nominal", "title": null}}},
 {"data": {"name": "red"}, "mark": {"type": "area", "opacity": 1, "strokeWidth": 1},
  "encoding": {"y2": {"field": "lo"},
   "fill": {"datum": "2 Wire Ethernet Half", "type": "nominal", "title": null},
   "stroke": {"datum": "2 Wire Ethernet Half", "type": "nominal", "title": null}}},
 {"data": {"name": "green"}, "mark": {"type": "area", "opacity": 1, "strokeWidth": 1},
  "encoding": {"y2": {"field": "lo"},
   "fill": {"datum": "Noise Floor", "type": "nominal", "title": null},
   "stroke": {"datum": "Noise Floor", "type": "nominal", "title": null}}},
 {"data": {"name": "boxes"}, "mark": {"type": "rect", "fill": "white", "stroke": "#888", "strokeWidth": 1.3},
  "encoding": {"x2": {"field": "f2"}, "y2": {"field": "lo"}}},
 {"data": {"name": "fmbox"}, "mark": {"type": "rect", "fill": "white"},
  "encoding": {"x2": {"field": "f2"}, "y2": {"field": "lo"}}},
 {"data": {"name": "fmrect"}, "mark": {"type": "rect", "fill": "#F4511E"},
  "encoding": {"x2": {"field": "f2"}, "y2": {"field": "lo"}}},
 {"data": {"name": "arrowline"}, "mark": {"type": "rule", "color": "#111", "strokeWidth": 2},
  "encoding": {"x2": {"field": "f2"}, "y2": {"field": "lo"}}},
 {"data": {"name": "arrowhead"}, "mark": {"type": "point", "shape": "triangle-right", "angle": -14.3, "filled": true, "color": "#111", "opacity": 1, "size": 300},
  "encoding": {}},
 {"data": {"name": "bluearrow"}, "mark": {"type": "rule", "color": "#4A90D9", "strokeWidth": 5},
  "encoding": {"x2": {"field": "f2"}}},
 {"data": {"name": "bluehead"}, "mark": {"type": "point", "shape": "triangle-right", "filled": true, "color": "#4A90D9", "opacity": 1, "size": 529},
  "encoding": {}},
 {"data": {"name": "boxbold"}, "mark": {"type": "text", "align": "left", "baseline": "alphabetic", "font": "Liberation Sans", "fontSize": 14, "fontWeight": "bold", "color": "#333"},
  "encoding": {"text": {"field": "t"}}},
 {"data": {"name": "boxitalic"}, "mark": {"type": "text", "align": "left", "baseline": "alphabetic", "font": "Liberation Sans", "fontSize": 14, "fontStyle": "italic", "color": "#444"},
  "encoding": {"text": {"field": "t"}}},
 {"data": {"name": "boxplain"}, "mark": {"type": "text", "align": "left", "baseline": "alphabetic", "font": "Liberation Sans", "fontSize": 14, "color": "#333"},
  "encoding": {"text": {"field": "t"}}},
 {"data": {"name": "fm"}, "mark": {"type": "text", "align": "left", "baseline": "alphabetic", "font": "Lato", "fontSize": 52, "color": "#1a1a1a"},
  "encoding": {"text": {"field": "t"}}},
 {"data": {"name": "small"}, "mark": {"type": "text", "align": "left", "baseline": "alphabetic", "font": "Liberation Sans", "fontSize": 13, "color": "#666"},
  "encoding": {"text": {"field": "t"}}},
 {"data": {"name": "ed"}, "mark": {"type": "text", "align": "right", "baseline": "alphabetic", "font": "Liberation Sans", "fontSize": 52, "color": "#111"},
  "encoding": {"text": {"field": "t"}}}
]
}
